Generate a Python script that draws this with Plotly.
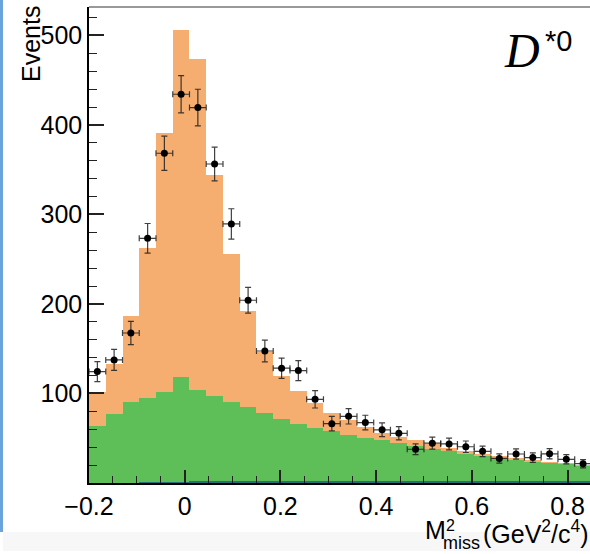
import plotly.graph_objects as go

# Missing-mass-squared histogram for the D*0 channel: stacked MC components + data
bin_centers = [-0.1825, -0.1475, -0.1125, -0.0775, -0.0425, -0.0075, 0.0275, 0.0625,
               0.0975, 0.1325, 0.1675, 0.2025, 0.2375, 0.2725, 0.3075, 0.3425,
               0.3775, 0.4125, 0.4475, 0.4825, 0.5175, 0.5525, 0.5875, 0.6225,
               0.6575, 0.6925, 0.7275, 0.7625, 0.7975, 0.8325]
bin_width = 0.035

# total expectation (signal + backgrounds), top of the orange stack
total_mc = [101.3, 133.0, 186.3, 262.6, 391.5, 506.6, 474.0, 344.6, 256.3, 191.7,
            146.0, 119.8, 102.5, 89.0, 78.6, 70.0, 62.6, 55.5, 51.0, 47.5,
            44.0, 39.5, 36.3, 32.2, 29.8, 27.4, 25.2, 23.7, 22.0, 20.5]
# background component (green)
background = [63.4, 76.8, 90.5, 94.6, 102.0, 118.1, 103.6, 97.6, 90.5, 84.4,
              77.7, 71.2, 66.3, 61.9, 57.8, 54.0, 50.7, 48.0, 44.7, 41.5,
              38.5, 35.4, 32.4, 29.7, 26.8, 25.4, 23.3, 22.1, 20.7, 19.0]
# small peaking component at the bottom (dark teal)
peaking = [0.0, 0.0, 0.0, 0.5, 0.5, 0.5, 1.8, 1.8, 1.8, 1.8,
           1.8, 1.8, 1.8, 1.8, 1.8, 1.8, 1.8, 1.8, 1.8, 1.8,
           1.8, 1.8, 1.8, 1.8, 1.8, 1.8, 1.8, 1.8, 1.8, 1.8]
# observed events and their statistical uncertainties
data_counts = [124.5, 137.5, 167.6, 273.4, 368.4, 434.3, 419.4, 356.4, 289.4, 204.2,
               147.5, 128.3, 125.6, 93.5, 66.3, 74.5, 67.5, 59.4, 55.5, 37.7,
               44.5, 43.6, 40.5, 35.4, 27.4, 32.4, 28.4, 32.6, 26.5, 21.6]
data_errors = [11.2, 11.7, 12.9, 16.5, 19.2, 20.8, 20.5, 18.9, 17.0, 14.3,
               12.1, 11.3, 11.2, 9.7, 8.1, 8.6, 8.2, 7.7, 7.4, 6.1,
               6.7, 6.6, 6.4, 5.9, 5.2, 5.7, 5.3, 5.7, 5.1, 4.6]

x_tick_vals = [-0.2, 0.0, 0.2, 0.4, 0.6, 0.8]
x_tick_text = ["\u22120.2", "0", "0.2", "0.4", "0.6", "0.8"]
y_tick_vals = [100, 200, 300, 400, 500]
y_tick_text = ["100", "200", "300", "400", "500"]

ORANGE = "#f6ae70"
GREEN = "#5ebf59"
TEAL = "#23707a"
FONT = "Liberation Sans, Arial, Helvetica, sans-serif"

W, H = 590, 554
ML, MR, MT, MB = 89, 0, 7, 71
PW, PH = W - ML - MR, H - MT - MB


def px_x(p):
    return (p - ML) / PW


def px_y(p):
    return (H - MB - p) / PH


fig = go.Figure()
fig.add_trace(go.Bar(x=bin_centers, y=total_mc, width=bin_width,
                     marker=dict(color=ORANGE, line=dict(width=0))))
fig.add_trace(go.Bar(x=bin_centers, y=background, width=bin_width,
                     marker=dict(color=GREEN, line=dict(width=0))))
fig.add_trace(go.Bar(x=bin_centers, y=peaking, width=bin_width,
                     marker=dict(color=TEAL, line=dict(width=0))))
fig.add_trace(go.Scatter(
    x=bin_centers, y=data_counts, mode="markers",
    marker=dict(color="black", size=7),
    error_y=dict(type="data", array=data_errors, color="rgba(30,30,30,0.85)",
                 thickness=1.2, width=3),
    error_x=dict(type="constant", value=bin_width / 2, color="rgba(30,30,30,0.85)",
                 thickness=1.2, width=3),
))

fig.update_layout(
    width=W, height=H,
    margin=dict(l=ML, r=MR, t=MT, b=MB),
    paper_bgcolor="white", plot_bgcolor="white",
    barmode="overlay", bargap=0, showlegend=False,
    font=dict(family=FONT, size=25, color="black"),
)
fig.update_xaxes(
    range=[-0.2, 0.847], tickmode="array", tickvals=x_tick_vals, ticktext=x_tick_text,
    ticks="inside", ticklen=13, tickwidth=1.5, tickcolor="#222",
    showline=True, linecolor="black", linewidth=1.5,
    showgrid=False, zeroline=False, tickfont=dict(size=25),
    minor=dict(tickmode="linear", tick0=0, dtick=0.05, ticks="inside",
               ticklen=7, tickwidth=1.3, tickcolor="#222", showgrid=False),
)
fig.update_yaxes(
    range=[0, 531.8], tickmode="array", tickvals=y_tick_vals, ticktext=y_tick_text,
    ticks="inside", ticklen=15, tickwidth=1.5, tickcolor="#222",
    showline=True, linecolor="black", linewidth=1.5,
    showgrid=False, zeroline=False, tickfont=dict(size=25),
    minor=dict(tickmode="linear", tick0=0, dtick=20, ticks="inside",
               ticklen=8, tickwidth=1.3, tickcolor="#222", showgrid=False),
)

shapes = [
    # top frame edge
    dict(type="line", xref="paper", yref="paper", x0=0, x1=1, y0=1, y1=1,
         line=dict(color="#777", width=1.5)),
    # page edge decorations
    dict(type="rect", xref="paper", yref="paper", x0=px_x(0), x1=px_x(3),
         y0=px_y(532), y1=px_y(0), fillcolor="#6ba3dd", line=dict(width=0)),
    dict(type="rect", xref="paper", yref="paper", x0=px_x(3), x1=px_x(590),
         y0=px_y(551), y1=px_y(532), fillcolor="#f7f7f7", line=dict(width=0)),
]
fig.update_layout(shapes=shapes)


def label(text, x, y, size, family=FONT, xanchor="left", yanchor="middle", angle=0):
    fig.add_annotation(text=text, xref="paper", yref="paper", x=px_x(x), y=px_y(y),
                       xanchor=xanchor, yanchor=yanchor, showarrow=False,
                       textangle=angle, font=dict(family=family, size=size, color="black"))


label("Events", 31, 44, 25, xanchor="center", angle=-90)
label("<i>D</i>", 502, 50, 48, family="Liberation Serif, Times New Roman, serif")
label("*0", 543, 41, 29)
label("M", 423, 530, 25)
label("2", 444, 525, 16)
label("miss", 441, 543, 18)
label("(GeV<sup>2</sup>/c<sup>4</sup>)", 481, 532, 25)

fig.write_html("out.html")
